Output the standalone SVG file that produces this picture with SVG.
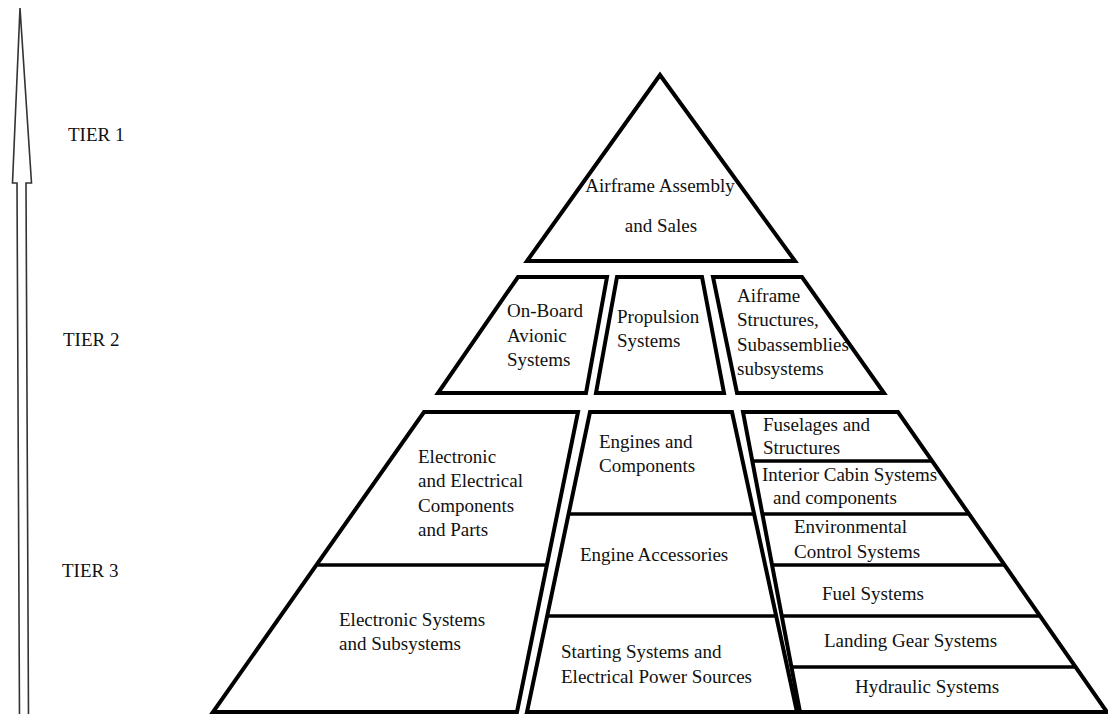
<svg xmlns="http://www.w3.org/2000/svg" width="1108" height="714" viewBox="0 0 1108 714">
<style>
.shape{fill:#fff;stroke:#000;stroke-width:4;stroke-linejoin:miter}
.div{fill:none;stroke:#000;stroke-width:3.5}
.t{font-family:"Liberation Serif","Times New Roman",serif;font-size:19px;fill:#111}
.m{text-anchor:middle}
.arrow{fill:#fff;stroke:#333;stroke-width:1.6;stroke-linejoin:miter}
</style>
<rect width="1108" height="714" fill="#fff"/>
<g id="connectors">
<path class="arrow" d="M20,8 L31.5,183 L26,183 L28.5,716 L19.5,716 L17,183 L12.5,183 Z"/>
</g>
<g id="tier-labels">
<text class="t" x="68" y="141">TIER 1</text>
<text class="t" x="63" y="346">TIER 2</text>
<text class="t" x="62" y="577">TIER 3</text>
</g>
<g id="airframe-assembly">
<polygon class="shape" points="660,75 527,261 795,261"/>
<text class="t m" x="660" y="192">Airframe Assembly</text>
<text class="t m" x="661" y="232">and Sales</text>
</g>
<g id="avionic-systems">
<polygon class="shape" points="518,277 607,277 586,393 438,393"/>
<text class="t" x="507" y="317">On-Board</text>
<text class="t" x="507" y="342">Avionic</text>
<text class="t" x="507" y="366">Systems</text>
</g>
<g id="propulsion-systems">
<polygon class="shape" points="617,277 702,277 724,393 596,393"/>
<text class="t" x="617" y="323">Propulsion</text>
<text class="t" x="617" y="347">Systems</text>
</g>
<g id="airframe-structures">
<polygon class="shape" points="713,277 802,277 884,393 737,393"/>
<text class="t" x="737" y="302">Aiframe</text>
<text class="t" x="737" y="326">Structures,</text>
<text class="t" x="737" y="351">Subassemblies</text>
<text class="t" x="737" y="375">subsystems</text>
</g>
<g id="electronic">
<polygon class="shape" points="424,412 578,412 517,712 213,712"/>
<line class="div" x1="318" y1="565" x2="548" y2="565"/>
<text class="t" x="418" y="463">Electronic</text>
<text class="t" x="418" y="487">and Electrical</text>
<text class="t" x="418" y="512">Components</text>
<text class="t" x="418" y="536">and Parts</text>
<text class="t" x="339" y="626">Electronic Systems</text>
<text class="t" x="339" y="650">and Subsystems</text>
</g>
<g id="engines">
<polygon class="shape" points="590,412 732,412 797,712 527,712"/>
<line class="div" x1="570" y1="514" x2="754" y2="514"/>
<line class="div" x1="548" y1="616" x2="777" y2="616"/>
<text class="t" x="599" y="448">Engines and</text>
<text class="t" x="599" y="472">Components</text>
<text class="t" x="580" y="561">Engine Accessories</text>
<text class="t" x="561" y="658">Starting Systems and</text>
<text class="t" x="561" y="683">Electrical Power Sources</text>
</g>
<g id="airframe-systems">
<polygon class="shape" points="743,412 898,412 1107,712 800,712"/>
<line class="div" x1="752" y1="461" x2="932" y2="461"/>
<line class="div" x1="762" y1="514" x2="969" y2="514"/>
<line class="div" x1="772" y1="565" x2="1004" y2="565"/>
<line class="div" x1="782" y1="616" x2="1040" y2="616"/>
<line class="div" x1="791" y1="667" x2="1075" y2="667"/>
<text class="t" x="763" y="431">Fuselages and</text>
<text class="t" x="763" y="454">Structures</text>
<text class="t" x="762" y="481">Interior Cabin Systems</text>
<text class="t" x="773" y="504">and components</text>
<text class="t" x="794" y="533">Environmental</text>
<text class="t" x="794" y="558">Control Systems</text>
<text class="t" x="822" y="600">Fuel Systems</text>
<text class="t" x="824" y="647">Landing Gear Systems</text>
<text class="t" x="855" y="693">Hydraulic Systems</text>
</g>
</svg>
